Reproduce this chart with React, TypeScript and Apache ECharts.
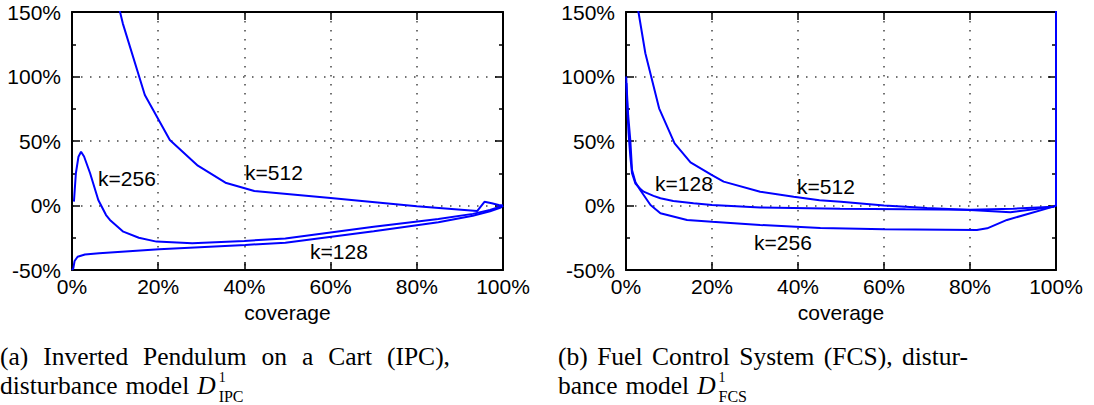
import React, { useEffect, useRef } from "react";
import * as echarts from "echarts";

// ---- data (coverage %, relative error %) ----
const xTicks = [0, 20, 40, 60, 80, 100];
const yTicks = [-50, 0, 50, 100, 150];

// (a) IPC
const ipc512X = [11.0, 11.8, 16.9, 22.7, 29.2, 35.6, 42.3, 60, 80, 94.0, 95.7, 97.4, 99.0, 100];
const ipc512Y = [152, 141, 85.7, 50.8, 30.9, 17.7, 11.2, 5.8, -0.5, -4.3, 2.9, 1.7, 0.4, 0];
const ipc256X = [0.45, 0.9, 1.5, 2.1, 2.8, 4.2, 6.1, 7.9, 8.8, 11.9, 15.5, 19.6, 27.9, 40, 49.5, 70, 85, 93, 97, 99.5, 100];
const ipc256Y = [3, 25, 37.8, 41.7, 38, 25, 4.3, -7.4, -11.2, -20.3, -25, -28, -29.3, -27.5, -25.5, -16.5, -10.5, -6.5, -3.5, -0.8, 0];
const ipc128X = [0, 0.3, 0.6, 1.3, 3, 6.3, 20.2, 40.2, 49.5, 70, 85, 93, 97, 99.5, 100];
const ipc128Y = [-50, -48.7, -43, -39.7, -38, -37.1, -34, -30.6, -28.8, -20, -13, -8, -4.5, -1.5, 0];

// (b) FCS
const fcs512X = [2.7, 2.9, 4.5, 7.7, 11.3, 15, 20, 22.7, 31.2, 39, 45, 50, 60, 70, 80, 89.4, 99.4, 100];
const fcs512Y = [155, 150, 118, 75.3, 48.2, 33.5, 23.6, 18.5, 10.7, 6.8, 4, 3, 0, -2, -3.5, -5.3, -0.9, 0];
const fcs128X = [0.05, 0.3, 0.6, 1.0, 1.4, 2.2, 3.3, 4.1, 6.4, 8, 11, 15.7, 20, 31.2, 49.8, 65, 80, 90, 99.4, 100, 100];
const fcs128Y = [100, 75, 56, 38, 25, 17, 13, 10.7, 7.5, 5.6, 3.5, 1.7, 0.3, -1.5, -2.5, -3, -3.3, -2.5, -0.9, 0, 160];
const fcs256X = [0.1, 0.5, 1.0, 1.4, 2.2, 3.3, 5.7, 8, 14.2, 20, 31.2, 45.2, 60, 81.6, 84, 88.6, 99.4, 100];
const fcs256Y = [95, 70, 50.8, 27.5, 18, 12, 0.4, -6, -11.2, -12.6, -15.1, -17.5, -18.5, -19, -17.7, -11.2, -0.9, 0];

// captions
const capA1 = ["(a)", "Inverted", "Pendulum", "on", "a", "Cart", "(IPC),"];
const capA2 = ["disturbance", "model"];
const capB1 = ["(b)", "Fuel", "Control", "System", "(FCS),", "distur-"];
const capB2 = ["bance", "model"];

const zip = (xs: number[], ys: number[]) => xs.map((x, i) => [x, ys[i]]);

const SANS = "Liberation Sans, Arial, Helvetica, sans-serif";
const SERIF = "Liberation Serif, Times New Roman, serif";
const BLUE = "#0000ff";
const CAP = 25.5;

export default function App() {
  const ref = useRef<HTMLDivElement>(null);
  useEffect(() => {
    document.body.style.margin = "0";
    if (!ref.current) return;
    const chart = echarts.init(ref.current, undefined, { renderer: "svg" });

    const ctx = document.createElement("canvas").getContext("2d")!;
    const measure = (t: string, font: string) => { ctx.font = font; return ctx.measureText(t).width; };

    const dotted = { color: "#444", width: 1.5, type: [1.5, 7.5] as any };
    const axisLine = { show: true, onZero: false, lineStyle: { color: "#000", width: 2 } };
    const tick = { show: true, inside: true, length: 8, lineStyle: { color: "#000", width: 1.5 } };
    const minor = { show: true, splitNumber: 2, length: 4, lineStyle: { color: "#000", width: 1.5 } };

    const xAxes: any[] = [];
    const yAxes: any[] = [];
    [0, 1].forEach((g) => {
      xAxes.push({
        type: "value", gridIndex: g, min: xTicks[0], max: xTicks[xTicks.length - 1], interval: 20,
        position: "bottom", axisLine, axisTick: tick,
        axisLabel: { formatter: "{value}%", color: "#000", fontFamily: SANS, fontSize: 21, margin: 6 },
        splitLine: { show: true, lineStyle: dotted },
        name: "coverage", nameLocation: "middle", nameGap: 28,
        nameTextStyle: { color: "#000", fontFamily: SANS, fontSize: 21 },
      });
      xAxes.push({
        type: "value", gridIndex: g, min: 0, max: 100, interval: 20, position: "top",
        axisLine, axisTick: tick, axisLabel: { show: false }, splitLine: { show: false },
      });
      yAxes.push({
        type: "value", gridIndex: g, min: yTicks[0], max: yTicks[yTicks.length - 1], interval: 50,
        position: "left", axisLine, axisTick: tick, minorTick: minor,
        axisLabel: { formatter: "{value}%", color: "#000", fontFamily: SANS, fontSize: 21, margin: 11 },
        splitLine: { show: true, lineStyle: dotted },
      });
      yAxes.push({
        type: "value", gridIndex: g, min: -50, max: 150, interval: 50, position: "right",
        axisLine, axisTick: tick, minorTick: minor, axisLabel: { show: false }, splitLine: { show: false },
      });
    });

    const line = (data: number[][], xi: number, yi: number) => ({
      type: "line", data, xAxisIndex: xi, yAxisIndex: yi, showSymbol: false, symbol: "none",
      lineStyle: { color: BLUE, width: 2 }, clip: true, z: 1,
    });

    const txt = (text: string, x: number, y: number, font: string, align = "center", lh?: number) => ({
      type: "text", x, y, z: 10,
      style: { text, fill: "#000", font, align, verticalAlign: "middle", ...(lh ? { lineHeight: lh } : {}) },
    });
    const capFont = `${CAP}px ${SERIF}`;
    const justify = (words: string[], x0: number, x1: number, y: number) => {
      const ws = words.map((w) => measure(w, capFont));
      const gap = (x1 - x0 - ws.reduce((a, b) => a + b, 0)) / (words.length - 1);
      let x = x0;
      return words.map((w, i) => { const e = txt(w, x, y, capFont, "left", 20); x += ws[i] + gap; return e; });
    };
    const plain = (words: string[], x0: number, y: number, sub: string) => {
      const sp = measure(" ", capFont) * 1.25;
      const out: any[] = [];
      let x = x0;
      words.forEach((w) => { out.push(txt(w, x, y, capFont, "left", 20)); x += measure(w, capFont) + sp; });
      const dFont = `italic ${CAP}px ${SERIF}`;
      out.push(txt("D", x, y, dFont, "left", 20));
      x += measure("D", dFont) + 3;
      out.push(txt("1", x, y - 8, `14px ${SERIF}`, "left", 11));
      out.push(txt(sub, x, y + 11, `16px ${SERIF}`, "left", 12));
      return out;
    };

    const L1 = 356, L2 = 385;
    const lab = `21px ${SANS}`;
    const graphic: any[] = [
      txt("k=256", 127, 178, lab), txt("k=512", 274, 172, lab), txt("k=128", 339, 251, lab),
      txt("k=128", 684, 183, lab), txt("k=512", 826, 186, lab), txt("k=256", 783, 242, lab),
      ...justify(capA1, 0, 450, L1),
      ...plain(capA2, 0, L2, "IPC"),
      ...justify(capB1, 558, 968, L1),
      ...plain(capB2, 558, L2, "FCS"),
    ];

    chart.setOption({
      animation: false,
      backgroundColor: "#fff",
      grid: [
        { left: 72, top: 12, width: 431, height: 258 },
        { left: 626, top: 12, width: 430, height: 258 },
      ],
      xAxis: xAxes,
      yAxis: yAxes,
      series: [
        line(zip(ipc512X, ipc512Y), 0, 0),
        line(zip(ipc256X, ipc256Y), 0, 0),
        line(zip(ipc128X, ipc128Y), 0, 0),
        line(zip(fcs512X, fcs512Y), 2, 2),
        line(zip(fcs128X, fcs128Y), 2, 2),
        line(zip(fcs256X, fcs256Y), 2, 2),
      ],
      graphic,
    });
    return () => chart.dispose();
  }, []);
  return <div ref={ref} style={{ width: 1094, height: 405 }} />;
}
